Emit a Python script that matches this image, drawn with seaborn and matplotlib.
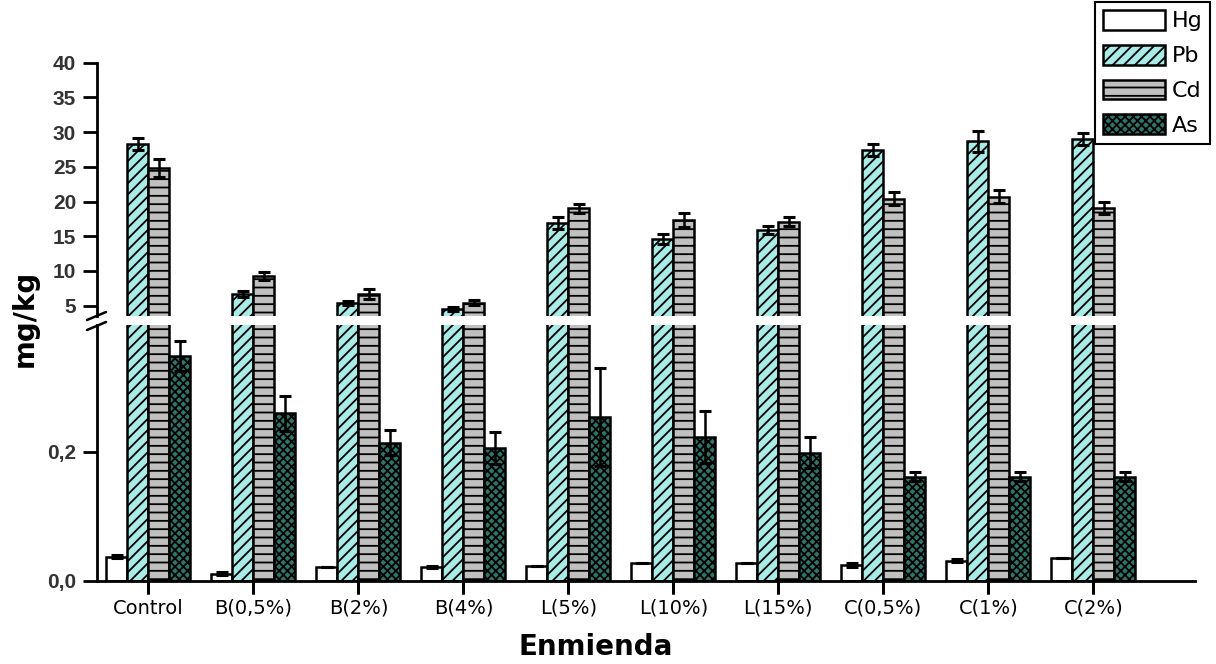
import numpy as np
import pandas as pd
import seaborn as sns
import matplotlib.pyplot as plt
import matplotlib.transforms as mtransforms
from matplotlib.lines import Line2D, TICKDOWN
from matplotlib.container import BarContainer
from matplotlib.ticker import FuncFormatter

# datos
enmienda = ['Control', 'B(0,5%)', 'B(2%)', 'B(4%)', 'L(5%)', 'L(10%)',
            'L(15%)', 'C(0,5%)', 'C(1%)', 'C(2%)']
metales = ['Hg', 'Pb', 'Cd', 'As']

hg = [0.037, 0.011, 0.021, 0.021, 0.023, 0.027, 0.027, 0.024, 0.031, 0.035]
pb = [28.3, 6.7, 5.4, 4.5, 16.9, 14.6, 15.9, 27.4, 28.7, 29.0]
cd = [24.8, 9.3, 6.7, 5.4, 19.0, 17.4, 17.1, 20.4, 20.7, 19.1]
as_ = [0.348, 0.259, 0.214, 0.206, 0.253, 0.223, 0.198, 0.161, 0.161, 0.161]

hg_err = [0.002, 0.002, 0.0, 0.002, 0.0, 0.0, 0.0, 0.003, 0.002, 0.0]
pb_err = [0.9, 0.4, 0.3, 0.25, 0.85, 0.7, 0.6, 0.9, 1.5, 0.9]
cd_err = [1.3, 0.6, 0.7, 0.35, 0.7, 1.0, 0.6, 0.9, 0.9, 0.9]
as_err = [0.023, 0.027, 0.019, 0.025, 0.076, 0.040, 0.024, 0.007, 0.007, 0.007]

colores = {'Hg': '#ffffff', 'Pb': '#9ef6f0', 'Cd': '#c0c0c0', 'As': '#237f70'}
tramas = {'Hg': '', 'Pb': '///', 'Cd': '--', 'As': 'xxxx'}

df = pd.DataFrame({
    'Enmienda': enmienda * 4,
    'Metal': np.repeat(metales, len(enmienda)),
    'valor': hg + pb + cd + as_,
})
errores = {'Hg': hg_err, 'Pb': pb_err, 'Cd': cd_err, 'As': as_err}

sns.set_theme(style="ticks")
plt.rcParams['font.family'] = ['DejaVu Sans']
plt.rcParams['hatch.linewidth'] = 1.3
plt.rcParams['hatch.color'] = 'black'
for k in ['text.color', 'axes.labelcolor', 'xtick.color', 'ytick.color', 'axes.edgecolor']:
    plt.rcParams[k] = 'black'

fig = plt.figure(figsize=(12.16, 6.64), dpi=100)
ax_up = fig.add_axes([0.0798, 0.524, 0.903, 0.3816])
ax_low = fig.add_axes([0.0798, 0.1255, 0.903, 0.385])


def dibujar(ax):
    sns.barplot(data=df, x='Enmienda', y='valor', hue='Metal', order=enmienda,
                hue_order=metales, palette=colores, errorbar=None, width=0.8,
                gap=0, edgecolor='black', linewidth=1.8, legend=False, ax=ax)
    barras = [c for c in ax.containers if isinstance(c, BarContainer)]
    for metal, cont in zip(metales, barras):
        xs, ys = [], []
        for p in cont.patches:
            p.set_hatch(tramas[metal])
            xs.append(p.get_x() + p.get_width() / 2)
            ys.append(p.get_height())
        ax.errorbar(xs, ys, yerr=errores[metal], fmt='none', ecolor='black',
                    elinewidth=1.8, capsize=4, capthick=2.2, zorder=5)
    ax.set_xlim(-0.49, 9.97)
    ax.set_xlabel('')
    ax.set_ylabel('')
    ax.set_axisbelow(False)
    for s in ['top', 'right']:
        ax.spines[s].set_visible(False)
    for s in ['left', 'bottom']:
        ax.spines[s].set_linewidth(2)
    ax.tick_params(axis='y', length=10, width=2, labelsize=15, labelcolor='#333333', pad=5)
    return barras


barras_up = dibujar(ax_up)
ax_up.set_ylim(3.5, 40)
ax_up.set_yticks([5, 10, 15, 20, 25, 30, 35, 40])
ax_up.spines['bottom'].set_visible(False)
ax_up.tick_params(axis='x', bottom=False, labelbottom=False)
for lab in ax_up.get_yticklabels():
    lab.set_fontfamily('Liberation Sans')
    lab.set_fontweight('bold')

dibujar(ax_low)
ax_low.set_ylim(0, 0.396)
ax_low.set_yticks([0.0, 0.2])
ax_low.yaxis.set_major_formatter(FuncFormatter(lambda v, p: f'{v:.1f}'.replace('.', ',')))
for lab in ax_low.get_yticklabels():
    lab.set_fontfamily('Liberation Sans')
    lab.set_fontweight('bold')
ax_low.tick_params(axis='x', length=9, width=2, direction='out', labelsize=14, pad=4)

# marcas de los grupos bajo el eje x
trans = mtransforms.blended_transform_factory(ax_low.transData, ax_low.transAxes)
ax_low.plot(range(len(enmienda)), [0] * len(enmienda), ls='none', marker=TICKDOWN,
            ms=9, mew=2, color='black', transform=trans, clip_on=False, zorder=10)

# marcas de corte del eje
W, H = 1216, 664
for yc in (316, 326):
    fig.add_artist(Line2D([87 / W, 106 / W], [1 - (yc + 4) / H, 1 - (yc - 4) / H],
                          color='black', lw=1.8))

fig.text(25 / W, 1 - 318 / H, 'mg/kg', rotation=90, fontsize=20,
         fontweight='bold', ha='center', va='center')
fig.text(596 / W, 1 - 647 / H, 'Enmienda', fontsize=20, fontweight='bold',
         ha='center', va='center')

leg = fig.legend(handles=[c.patches[0] for c in barras_up], labels=metales,
                 loc='upper right', bbox_to_anchor=(1210 / W, 1 - 2 / H),
                 fontsize=16, handlelength=2.8, handleheight=1.0, labelspacing=0.6,
                 handletextpad=0.3, borderpad=0.35, borderaxespad=0,
                 fancybox=False, framealpha=1, edgecolor='black')
leg.get_frame().set_linewidth(1.5)

fig.savefig('out.png', dpi=100)
